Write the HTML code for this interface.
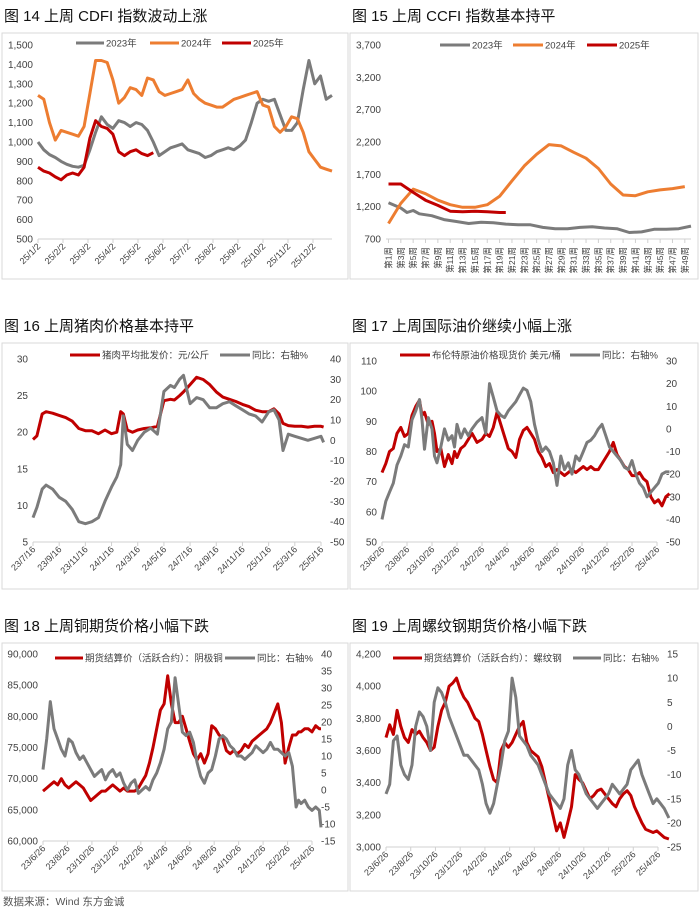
<!DOCTYPE html>
<html><head><meta charset="utf-8">
<style>
html,body{margin:0;padding:0;background:#fff;}
body{width:700px;height:912px;overflow:hidden;font-family:"Liberation Sans","Noto Sans CJK SC",sans-serif;}
svg text{font-family:"Liberation Sans","Noto Sans CJK SC",sans-serif;}
</style></head>
<body>
<svg id="root" width="700" height="912" viewBox="0 0 700 912" xmlns="http://www.w3.org/2000/svg"></svg>
<script>
// ===== Chart 14: CDFI (weekly index 0..51)
const c14Ticks = ["25/1/2","25/2/2","25/3/2","25/4/2","25/5/2","25/6/2","25/7/2","25/8/2","25/9/2","25/10/2","25/11/2","25/12/2"];
const c14Y = [500,600,700,800,900,1000,1100,1200,1300,1400,1500];
const c14Y2023 = [1000,960,935,920,900,885,875,870,880,960,1050,1130,1090,1070,1110,1100,1080,1100,1090,1060,1000,930,950,970,980,990,960,950,940,920,930,950,960,970,960,980,1010,1100,1200,1220,1210,1220,1140,1060,1060,1100,1270,1420,1300,1340,1220,1240];
const c14Y2024 = [1240,1220,1100,1010,1060,1050,1040,1030,1080,1250,1420,1420,1410,1320,1200,1230,1280,1270,1240,1330,1320,1260,1240,1250,1260,1270,1320,1250,1220,1200,1190,1180,1180,1200,1220,1230,1240,1250,1260,1190,1180,1080,1050,1080,1130,1120,1050,950,910,870,860,850];
const c14Y2025 = [870,850,840,820,805,830,840,830,870,1020,1110,1080,1070,1040,950,930,950,960,940,930,945];
// ===== Chart 15: CCFI (week numbers)
const c15Ticks = ["第1周","第3周","第5周","第7周","第9周","第11周","第13周","第15周","第17周","第19周","第21周","第23周","第25周","第27周","第29周","第31周","第33周","第35周","第37周","第39周","第41周","第43周","第45周","第47周","第49周"];
const c15Y = [700,1200,1700,2200,2700,3200,3700];
const c15W2023 = [1,3,4,5,6,8,10,12,14,16,18,20,22,24,26,28,30,32,34,36,38,40,42,44,46,48,50];
const c15V2023 = [1260,1180,1110,1140,1090,1060,1000,970,940,960,950,930,920,920,880,860,860,880,890,870,860,800,810,850,850,860,900];
const c15W2024 = [1,3,5,7,9,11,13,15,17,19,21,23,25,27,29,31,33,35,37,39,41,43,45,47,49];
const c15V2024 = [940,1250,1470,1400,1300,1230,1190,1190,1230,1360,1600,1830,2010,2160,2140,2040,1950,1790,1550,1380,1370,1430,1460,1480,1510];
const c15W2025 = [1,3,5,7,9,11,13,15,17,19,20];
const c15V2025 = [1550,1550,1420,1300,1220,1130,1120,1130,1120,1110,1110];
// ===== Chart 16: pork (x in 2-month tick units)
const c16Ticks = ["23/7/16","23/9/16","23/11/16","24/1/16","24/3/16","24/5/16","24/7/16","24/9/16","24/11/16","25/1/16","25/3/16","25/5/16"];
const c16YL = [5,10,15,20,25,30];
const c16YR = [-50,-40,-30,-20,-10,0,10,20,30,40];
const c16XP = [0,0.15,0.35,0.5,0.75,1,1.25,1.5,1.75,2,2.25,2.5,2.75,3,3.2,3.35,3.45,3.6,3.8,4,4.25,4.5,4.75,5,5.25,5.4,5.6,5.75,6,6.25,6.5,6.75,7,7.25,7.5,7.75,8,8.25,8.5,8.75,9,9.2,9.4,9.55,9.75,10,10.25,10.5,10.75,11,11.1];
const c16Price = [19,19.5,22.5,22.8,22.6,22.3,22,21.5,20.5,20.2,20.2,19.8,20.3,19.8,20,22.8,22.5,20.3,20,20.3,20.5,20.6,20.8,24.3,24.5,24.4,25,25.5,26.5,27.5,27.2,26.5,25.5,24.8,24.5,24.2,23.8,23.5,23,22.8,22.8,23.2,22.5,21.2,20.9,20.8,20.8,20.7,20.8,20.8,20.7];
const c16Yoy = [-38,-33,-24,-22,-24,-28,-30,-34,-40,-41,-40,-38,-30,-23,-18,-12,12,-2,-5,0,4,6,3,24,27,26,30,32,18,21,20,16,16,18,19,17,15,13,12,9,14,15,10,-5,3,2,1,0,1,2,-1];
// ===== Chart 17: oil
const cDateTicks = ["23/6/26","23/8/26","23/10/26","23/12/26","24/2/26","24/4/26","24/6/26","24/8/26","24/10/26","24/12/26","25/2/26","25/4/26"];
const c17YL = [50,60,70,80,90,100,110];
const c17YR = [-50,-40,-30,-20,-10,0,10,20,30];
const c17X = [0,0.15,0.3,0.45,0.6,0.75,0.9,1.05,1.2,1.35,1.5,1.6,1.7,1.85,2,2.1,2.2,2.35,2.5,2.65,2.8,2.9,3,3.15,3.3,3.45,3.6,3.8,4,4.15,4.3,4.45,4.6,4.75,4.9,5.05,5.2,5.35,5.5,5.65,5.8,5.95,6.1,6.25,6.4,6.55,6.7,6.85,7,7.15,7.3,7.45,7.6,7.75,7.9,8.05,8.2,8.35,8.5,8.65,8.8,8.95,9.1,9.25,9.4,9.55,9.7,9.85,10,10.15,10.3,10.45,10.6,10.75,10.9,11.05,11.2,11.35,11.5];
const c17Brent = [73,76,80,81,86,88,85,86,92,95,97,92,93,89,90,86,80,81,75,79,76,80,78,81,82,84,86,83,84,86,85,88,93,89,85,81,80,78,84,87,88,86,84,80,78,75,76,73,74,73,72,73,74,73,74,75,74,75,74,74,76,78,80,83,79,77,75,74,72,72,73,71,70,65,63,64,62,65,66];
const c17Yoy = [-40,-32,-28,-24,-16,-12,-7,-8,4,8,13,4,-9,5,0,-12,-15,-8,0,-5,-3,-8,2,-4,0,-3,0,3,5,-2,20,14,8,6,5,8,10,12,15,18,17,12,2,-5,-10,-8,-10,-15,-25,-12,-18,-15,-20,-12,-14,-10,-6,-5,-3,0,2,-3,-8,-10,-12,-14,-17,-18,-14,-20,-24,-26,-30,-28,-26,-24,-20,-19,-19];
// ===== Chart 18: copper
const c18YL = [60000,65000,70000,75000,80000,85000,90000];
const c18YR = [-15,-10,-5,0,5,10,15,20,25,30,35,40];
const c18X = [0,0.15,0.3,0.45,0.6,0.75,0.9,1.05,1.2,1.35,1.5,1.65,1.8,1.95,2.1,2.25,2.4,2.55,2.7,2.85,3,3.15,3.3,3.45,3.6,3.75,3.9,4.05,4.2,4.35,4.5,4.65,4.8,4.95,5.1,5.25,5.4,5.55,5.7,5.85,6,6.15,6.3,6.45,6.6,6.75,6.9,7.05,7.2,7.35,7.5,7.65,7.8,7.95,8.1,8.25,8.4,8.55,8.7,8.85,9,9.15,9.3,9.45,9.6,9.75,9.9,10.05,10.2,10.35,10.45,10.55,10.7,10.85,11,11.15,11.3,11.37];
const c18Price = [68000,68500,69000,69500,69000,70000,69000,68500,69000,69500,69000,68500,67500,66500,67000,67500,68000,68000,68500,69000,68500,68000,68500,68000,68000,68000,68500,69500,70500,72500,75000,78000,81000,82000,86500,82000,79000,79000,80000,78000,76000,74000,73000,74000,72500,74000,78500,78000,77000,76500,74500,74000,74500,74000,74500,75500,75000,76000,76500,77000,77500,78000,79000,80500,82000,79000,72500,75000,77000,77000,77500,77500,78000,78000,77500,78500,78000,78000];
const c18Yoy = [6,15,26,18,15,12,10,15,14,11,9,10,8,6,4,5,6,3,5,6,4,5,2,0,2,3,-1,0,1,0,3,5,8,12,18,20,33,25,17,16,17,14,8,4,2,5,6,10,15,16,15,13,12,10,10,9,10,11,13,12,11,12,14,12,12,11,10,11,7,-5,-3,-4,-3,-5,-6,-5,-6,-11];
// ===== Chart 19: rebar
const c19YL = [3000,3200,3400,3600,3800,4000,4200];
const c19YR = [-25,-20,-15,-10,-5,0,5,10,15];
const c19X = [0,0.15,0.3,0.45,0.6,0.75,0.9,1.05,1.2,1.35,1.5,1.65,1.8,1.95,2.1,2.25,2.4,2.55,2.7,2.85,3,3.15,3.3,3.45,3.6,3.75,3.9,4.05,4.2,4.35,4.5,4.65,4.8,4.95,5.1,5.25,5.4,5.55,5.7,5.85,6,6.15,6.3,6.45,6.6,6.75,6.9,7.05,7.2,7.35,7.5,7.65,7.8,7.95,8.1,8.25,8.4,8.55,8.7,8.85,9,9.15,9.3,9.45,9.6,9.75,9.9,10.05,10.2,10.35,10.5,10.65,10.8,10.95,11.1,11.25,11.44];
const c19Price = [3680,3760,3700,3850,3750,3680,3650,3730,3700,3720,3680,3650,3600,3620,3750,3850,3900,4000,4020,4050,3980,3930,3900,3850,3800,3780,3700,3600,3500,3420,3400,3600,3650,3620,3650,3700,3750,3780,3650,3600,3580,3560,3500,3400,3300,3200,3100,3150,3060,3150,3250,3450,3420,3400,3350,3300,3320,3350,3360,3330,3300,3270,3250,3300,3330,3350,3320,3250,3200,3150,3110,3100,3090,3100,3080,3060,3050];
const c19Yoy = [-14,-12,-3,-2,-8,-10,-11,-8,0,3,2,0,-5,5,8,7,5,2,0,-2,-4,-6,-6,-7,-8,-9,-12,-16,-18,-16,-12,-8,-3,-1,10,6,-2,-3,-4,-6,-7,-8,-10,-12,-14,-15,-16,-17,-15,-8,-5,-9,-10,-12,-14,-15,-16,-17,-16,-15,-14,-12,-13,-14,-13,-12,-9,-8,-7,-10,-12,-14,-16,-15,-16,-17,-19];

const NS = "http://www.w3.org/2000/svg";
const root = document.getElementById('root');
const GRAY = "#7b7b7b", ORANGE = "#ed7d31", RED = "#c00000";

function mk(tag, attrs, parent) {
  const e = document.createElementNS(NS, tag);
  for (const k in attrs) e.setAttribute(k, attrs[k]);
  (parent || root).appendChild(e);
  return e;
}
function txt(s, x, y, size, anchor, fill, parent) {
  const t = mk('text', {x: x, y: y, 'font-size': size, 'text-anchor': anchor || 'start', fill: fill || '#404040'}, parent);
  t.textContent = s;
  return t;
}
function fmt(v) { return v >= 1000 ? v.toLocaleString('en-US') : String(v); }
function linScale(d0, d1, r0, r1) { return v => r0 + (v - d0) * (r1 - r0) / (d1 - d0); }

function panel(cfg) {
  const g = mk('g', {});
  
  
  const tt = txt(cfg.title, cfg.bx + 2, cfg.by - 12, 15, 'start', '#111', g);
  
  
  const box = mk('rect', {x: cfg.bx, y: cfg.by, width: cfg.bw, height: cfg.bh, fill: 'none', stroke: '#d9d9d9', 'stroke-width': 1}, g);
  
  
  const p = cfg.plot;
  const sx = linScale(cfg.xd[0], cfg.xd[1], p.x0, p.x1);
  const syL = linScale(cfg.yl[0], cfg.yl[cfg.yl.length - 1], p.y1, p.y0);
  const syR = cfg.yr ? linScale(cfg.yr[0], cfg.yr[cfg.yr.length - 1], p.y1, p.y0) : null;
  const ax = mk('line', {x1: p.x0, x2: p.x1, y1: p.y1, y2: p.y1, stroke: '#d0d0d0', 'stroke-width': 1}, g);
  
  
  cfg.yl.forEach(v => {
    const t = txt(fmt(v), p.x0 - 5, syL(v) + 3.5, 10, 'end', '#404040', g);
    
    
  });
  if (cfg.yr) cfg.yr.forEach(v => {
    const t = txt(String(v), p.x1 + 9, syR(v) + 3.5, 10, 'start', '#404040', g);
    
    
  });
  cfg.ticks.forEach((lab, i) => {
    const xv = cfg.tickX(i);
    const x = sx(xv);
    mk('line', {x1: x, x2: x, y1: p.y1, y2: p.y1 + 4, stroke: '#d0d0d0'}, g);
    const t = txt(lab, 0, 0, cfg.tickSize || 9, 'end', '#404040', g);
    t.setAttribute('transform', `translate(${x + 3},${p.y1 + 8}) rotate(${cfg.rot || -45})`);
    
    
  });
  cfg.series.forEach(s => {
    const sy = s.axis === 'r' ? syR : syL;
    let d = '';
    s.vals.forEach((v, i) => { d += (i ? 'L' : 'M') + sx(s.xs(i)).toFixed(1) + ',' + sy(v).toFixed(1); });
    const path = mk('path', {d: d, fill: 'none', stroke: s.color, 'stroke-width': 3, 'stroke-linejoin': 'round'}, g);
    
    
  });
  cfg.legend.forEach(l => {
    const lg = mk('g', {}, g);
    
    
    mk('line', {x1: l.x, x2: l.x + l.w, y1: l.y, y2: l.y, stroke: l.color, 'stroke-width': 3}, lg);
    txt(l.label, l.x + l.w + 2, l.y + 3.5, 9.5, 'start', '#404040', lg);
  });
}

panel({name:'chart-14-cdfi', title:'图 14  上周 CDFI 指数波动上涨', bx:2, by:33, bw:346, bh:246,
  plot:{x0:38, x1:332, y0:45, y1:239}, xd:[0,51], yl:c14Y,
  ticks:c14Ticks, tickX:i => i * 51 / 11.76,
  series:[
    {name:'series-2023', vals:c14Y2023, xs:i=>i, color:GRAY},
    {name:'series-2024', vals:c14Y2024, xs:i=>i, color:ORANGE},
    {name:'series-2025', vals:c14Y2025, xs:i=>i, color:RED}],
  legend:[{x:76,y:43,w:28,color:GRAY,label:'2023年'},{x:150,y:43,w:29,color:ORANGE,label:'2024年'},{x:222,y:43,w:29,color:RED,label:'2025年'}]});

panel({name:'chart-15-ccfi', title:'图 15  上周 CCFI 指数基本持平', bx:350, by:33, bw:348, bh:246,
  plot:{x0:386, x1:691, y0:45, y1:239}, xd:[0.6,50], yl:c15Y,
  ticks:c15Ticks, tickX:i => 1 + 2 * i, rot:-90, tickSize:8.5,
  series:[
    {name:'series-2023', vals:c15V2023, xs:i=>c15W2023[i], color:GRAY},
    {name:'series-2024', vals:c15V2024, xs:i=>c15W2024[i], color:ORANGE},
    {name:'series-2025', vals:c15V2025, xs:i=>c15W2025[i], color:RED}],
  legend:[{x:440,y:45,w:30,color:GRAY,label:'2023年'},{x:513,y:45,w:30,color:ORANGE,label:'2024年'},{x:587,y:45,w:30,color:RED,label:'2025年'}]});

panel({name:'chart-16-pork', title:'图 16  上周猪肉价格基本持平', bx:2, by:343, bw:346, bh:246,
  plot:{x0:33, x1:321, y0:359, y1:542}, xd:[0,11], yl:c16YL, yr:c16YR,
  ticks:c16Ticks, tickX:i => i,
  series:[
    {name:'pork-price-line', vals:c16Price, xs:i=>c16XP[i], color:RED},
    {name:'pork-yoy-line', vals:c16Yoy, xs:i=>c16XP[i], color:GRAY, axis:'r'}],
  legend:[{x:70,y:355,w:30,color:RED,label:'猪肉平均批发价：元/公斤'},{x:220,y:355,w:30,color:GRAY,label:'同比：右轴%'}]});

panel({name:'chart-17-oil', title:'图 17  上周国际油价继续小幅上涨', bx:350, by:343, bw:348, bh:246,
  plot:{x0:382, x1:657, y0:361, y1:542}, xd:[0,11], yl:c17YL, yr:c17YR,
  ticks:cDateTicks, tickX:i => i,
  series:[
    {name:'brent-price-line', vals:c17Brent, xs:i=>c17X[i], color:RED},
    {name:'oil-yoy-line', vals:c17Yoy, xs:i=>c17X[i], color:GRAY, axis:'r'}],
  legend:[{x:400,y:355,w:30,color:RED,label:'布伦特原油价格现货价 美元/桶'},{x:570,y:355,w:30,color:GRAY,label:'同比：右轴%'}]});

panel({name:'chart-18-copper', title:'图 18  上周铜期货价格小幅下跌', bx:2, by:643, bw:346, bh:248,
  plot:{x0:43, x1:312, y0:654, y1:841}, xd:[0,11], yl:c18YL, yr:c18YR,
  ticks:cDateTicks, tickX:i => i,
  series:[
    {name:'copper-price-line', vals:c18Price, xs:i=>c18X[i], color:RED},
    {name:'copper-yoy-line', vals:c18Yoy, xs:i=>c18X[i], color:GRAY, axis:'r'}],
  legend:[{x:55,y:658,w:28,color:RED,label:'期货结算价（活跃合约）：阴极铜'},{x:225,y:658,w:30,color:GRAY,label:'同比：右轴%'}]});

panel({name:'chart-19-rebar', title:'图 19  上周螺纹钢期货价格小幅下跌', bx:350, by:643, bw:348, bh:248,
  plot:{x0:386, x1:658, y0:654, y1:847}, xd:[0,11], yl:c19YL, yr:c19YR,
  ticks:cDateTicks, tickX:i => i,
  series:[
    {name:'rebar-price-line', vals:c19Price, xs:i=>c19X[i], color:RED},
    {name:'rebar-yoy-line', vals:c19Yoy, xs:i=>c19X[i], color:GRAY, axis:'r'}],
  legend:[{x:393,y:658,w:29,color:RED,label:'期货结算价（活跃合约）：螺纹钢'},{x:573,y:658,w:28,color:GRAY,label:'同比：右轴%'}]});

const src = txt('数据来源：Wind 东方金诚', 3, 905, 10.5, 'start', '#555');


</script>
</body></html>
